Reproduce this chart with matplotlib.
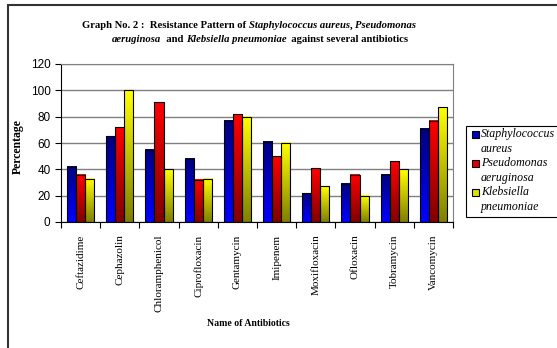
import matplotlib
matplotlib.use("Agg")
import matplotlib.pyplot as plt
from matplotlib.patches import Rectangle
from matplotlib.colors import LinearSegmentedColormap
import numpy as np

antibiotics = ["Ceftazidime", "Cephazolin", "Chloramphenicol", "Ciprofloxacin",
               "Gentamycin", "Imipenem", "Moxifloxacin", "Ofloxacin",
               "Tobramycin", "Vancomycin"]
staph = [42, 65, 55, 48, 77, 61, 22, 29, 36, 71]
pseudo = [36, 72, 91, 32, 82, 50, 41, 36, 46, 77]
klebs = [33, 100, 40, 33, 80, 60, 27, 20, 40, 87]
series_names = [("Staphylococcus", "aureus"), ("Pseudomonas", "aeruginosa"),
                ("Klebsiella", "pneumoniae")]

# (top colour, bottom colour) for the gradient fills
grads = [("#000080", "#0000ff"), ("#ff0000", "#800000"), ("#ffff00", "#808000")]
legend_cols = ["#0000c0", "#e00000", "#e0e000"]

serif = "Liberation Serif"
sans = "Liberation Sans"

fig = plt.figure(figsize=(5.57, 3.48), dpi=100)
W, H = 557, 348
ax = fig.add_axes([61 / W, 1 - 222 / H, 392 / W, 158 / H])

x = np.arange(len(antibiotics))
bw = 0.23
for i, (vals, (ctop, cbot)) in enumerate(zip([staph, pseudo, klebs], grads)):
    bars = ax.bar(x + (i - 1) * bw, vals, bw, facecolor="none", edgecolor="black",
                  linewidth=0.8, zorder=3)
    cmap = LinearSegmentedColormap.from_list("g%d" % i, [cbot, ctop])
    grad = np.linspace(0, 1, 64).reshape(-1, 1)
    for b in bars:
        ax.imshow(grad, cmap=cmap, origin="lower", aspect="auto", zorder=2,
                  extent=[b.get_x(), b.get_x() + b.get_width(), 0, b.get_height()])

ax.set_xlim(-0.5, len(antibiotics) - 0.5)
ax.set_ylim(0, 120)
ax.set_yticks(range(0, 121, 20))
ax.yaxis.grid(True, color="#808080", linewidth=1)
ax.set_axisbelow(True)
ax.set_xticks(x)
ax.set_xticklabels(antibiotics, rotation=90, fontfamily=serif, fontsize=8.0)
ax.set_xticks(np.arange(-0.5, len(antibiotics)), minor=True)
ax.tick_params(axis="x", which="major", length=0, pad=9)
ax.tick_params(axis="x", which="minor", length=4, direction="out", width=0.8)
ax.tick_params(axis="y", length=4, width=0.8, labelsize=8.5)
for lab in ax.get_yticklabels():
    lab.set_fontfamily(sans)
for s in ["top", "right"]:
    ax.spines[s].set_color("#808080")
ax.spines["left"].set_linewidth(0.8)
ax.spines["bottom"].set_linewidth(0.8)

fig.text(18 / W, 1 - 147 / H, "Percentage", fontfamily=serif, fontweight="bold",
         fontsize=8.5, rotation=90, ha="center", va="center")
fig.text(248 / W, 1 - 323 / H, "Name of Antibiotics", fontfamily=serif,
         fontweight="bold", fontsize=7, ha="center", va="center")

# title with mixed bold / bold-italic pieces
fig.canvas.draw()
rend = fig.canvas.get_renderer()
lines = [
    (249, 26, [("Graph No. 2 :  Resistance Pattern of ", "normal"),
               ("Staphylococcus aureus", "italic"), (", ", "normal"),
               ("Pseudomonas", "italic")]),
    (260, 40, [("aeruginosa", "italic"), ("  and ", "normal"),
               ("Klebsiella pneumoniae", "italic"),
               ("  against several antibiotics", "normal")]),
]
for xc, y0, pieces in lines:
    texts = [fig.text(0, 1 - y0 / H, txt, fontfamily=serif, fontweight="bold",
                      fontstyle=style, fontsize=7.7, va="center", ha="left")
             for txt, style in pieces]
    widths = [t.get_window_extent(rend).width for t in texts]
    xp = xc - sum(widths) / 2
    for t, w in zip(texts, widths):
        t.set_x(xp / W)
        xp += w

# legend drawn by hand: patch sits beside the first line of each name
fig.add_artist(Rectangle((466 / W, 1 - 217 / H), 0.5, 91 / H, transform=fig.transFigure,
                         facecolor="white", edgecolor="black", linewidth=0.8))
for k, ((l1, l2), c) in enumerate(zip(series_names, legend_cols)):
    yc = 134 + 29 * k
    fig.add_artist(Rectangle((472 / W, 1 - (yc + 3.5) / H), 7 / W, 7 / H,
                             transform=fig.transFigure, facecolor=c,
                             edgecolor="black", linewidth=0.8))
    fig.text(481 / W, 1 - yc / H, l1, fontfamily=serif, fontstyle="italic",
             fontsize=8.6, va="center", ha="left")
    fig.text(481 / W, 1 - (yc + 15) / H, l2, fontfamily=serif, fontstyle="italic",
             fontsize=8.6, va="center", ha="left")

fig.add_artist(Rectangle((8 / W, -0.1), 1.0, 1.1 - 5 / H, transform=fig.transFigure,
                         facecolor="none", edgecolor="#333333", linewidth=1.5))

fig.savefig("out.png", dpi=100)
